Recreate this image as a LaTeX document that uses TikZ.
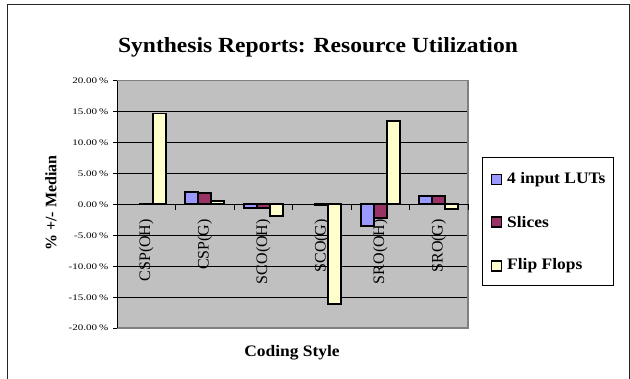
\documentclass[tikz,border=0pt]{standalone}
\usepackage{fontspec}
\setmainfont{Liberation Serif}
\usepackage{graphicx}
\definecolor{lutblue}{RGB}{153,153,255}
\definecolor{slicered}{RGB}{153,51,102}
\definecolor{ffyellow}{RGB}{255,255,204}
\definecolor{plotgray}{RGB}{192,192,192}
\definecolor{plotedge}{RGB}{128,128,128}
\newcommand{\hwide}[1]{\scalebox{1.09}[1]{#1}}
\newcommand{\tickw}[1]{\scalebox{1.3}[1]{#1}}
\tikzset{
  bar/.style={draw=black, line width=1.8pt},
  grid line/.style={draw=black, line width=0.6pt},
  ticklab/.style={anchor=east, inner sep=0pt, font=\fontsize{8.5}{9}\selectfont},
  catlab/.style={rotate=90, anchor=east, inner sep=0pt, font=\fontsize{16}{17}\selectfont},
  boldlab/.style={inner sep=0pt, font=\fontsize{16}{18}\selectfont\bfseries},
  legkey/.style={draw=black, line width=1.6pt, minimum size=10pt, inner sep=0pt},
}
\begin{document}
\begin{tikzpicture}[x=1pt,y=-1pt]
\useasboundingbox (0,0) rectangle (630,379);
\fill[white] (0,0) rectangle (630,379);
% outer frame
\draw[line width=1pt, black!85] (7,385) -- (7,5) -- (629,5) -- (629,385);
% title
\node[anchor=base, inner sep=0pt, font=\fontsize{21.6}{24}\selectfont\bfseries] (title) at (318,52.5) {\hwide{Synthesis Reports: Resource Utilization}};
% plot area
\fill[plotgray] (117,80.6) rectangle (468,328.2);
\foreach \v in {-20,-15,...,20} {
  \draw[grid line] (117,{204.4-6.19*\v}) -- (468,{204.4-6.19*\v});
  \draw[line width=0.6pt] (113,{204.4-6.19*\v}) -- (117,{204.4-6.19*\v});
}
\draw[plotedge, line width=1.5pt] (117,80.6) -- (468,80.6) -- (468,328.2) -- (117,328.2);
\draw[black, line width=1pt] (117,80.6) -- (117,328.2);
% tick labels
\foreach \v/\t in {20/20.00, 15/15.00, 10/10.00, 5/5.00, 0/0.00, -5/-5.00, -10/-10.00, -15/-15.00, -20/-20.00} {
  \node[ticklab] (t\v) at (108.5,{204.4-6.19*\v}) {\tickw{\t\,\%}};
}
% x axis ticks
\foreach \k in {0,...,6} {
  \draw[line width=0.8pt] ({117+58.5*\k},204.4) -- ({117+58.5*\k},210);
}
% category labels
\foreach \c [count=\i from 0] in {CSP(OH),CSP(G),SCO(OH),SCO(G),SRO(OH),SRO(G)} {
  \node[catlab] (cat\i) at ({146.25+58.5*\i},219) {\c};
}
% bars
\foreach \i/\j/\v in {0/1/0.15, 0/2/14.7, 1/0/2.0, 1/1/1.9, 1/2/0.6, 2/0/-0.6, 2/1/-0.6, 2/2/-1.9, 3/1/-0.15, 3/2/-16.1, 4/0/-3.5, 4/1/-2.2, 4/2/13.5, 5/0/1.3, 5/1/1.4, 5/2/-0.7} {
  \pgfmathsetmacro\bx{126.75+58.5*\i+13*\j}
  \ifcase\j \def\col{lutblue}\or \def\col{slicered}\or \def\col{ffyellow}\fi
  \draw[bar, fill=\col] (\bx,204.4) rectangle ({\bx+13},{204.4-6.19*\v});
}
% zero axis
\draw[black, line width=1pt] (117,204.4) -- (468,204.4);
% axis titles
\node[boldlab, rotate=90] (ylab) at (51,203) {\% +/- Median};
\node[boldlab, anchor=base] (xlab) at (292,356.5) {\hwide{Coding Style}};
% legend
\draw[black, line width=1pt, fill=white] (482.5,157.5) rectangle (613,286);
\node[legkey, fill=lutblue] (k1) at (496.5,179.5) {};
\node[legkey, fill=slicered] (k2) at (496.5,222) {};
\node[legkey, fill=ffyellow] (k3) at (496.5,266) {};
\node[boldlab, anchor=west] (l1) at (507,179.5) {\hwide{4 input LUTs}};
\node[boldlab, anchor=west] (l2) at (507,222) {\hwide{Slices}};
\node[boldlab, anchor=west] (l3) at (507,266) {\hwide{Flip Flops}};
\end{tikzpicture}
\end{document}
